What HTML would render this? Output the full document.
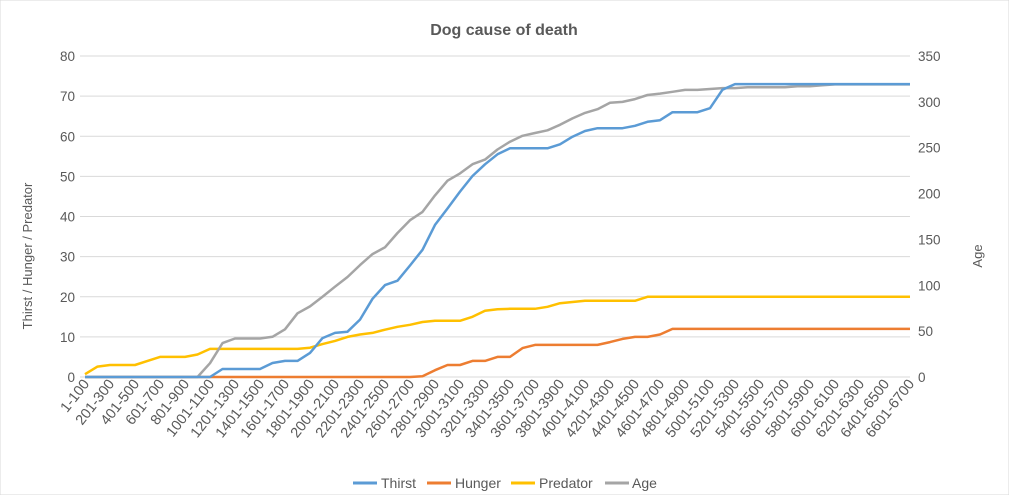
<!DOCTYPE html>
<html><head><meta charset="utf-8"><style>
body{margin:0;background:#fff;}
svg{display:block;font-family:"Liberation Sans",Calibri,sans-serif;}
</style></head><body>
<svg id="chart" width="1009" height="495" viewBox="0 0 1009 495">
<rect x="0" y="0" width="1009" height="495" fill="#fff" stroke="#d9d9d9"/>
<text x="504" y="35" text-anchor="middle" font-size="16" font-weight="bold" fill="#595959">Dog cause of death</text>
<g id="grid"></g><g id="ticks"></g><g id="xlabels"></g><g id="series"></g>
<text transform="translate(32,256) rotate(-90)" text-anchor="middle" font-size="13" fill="#595959">Thirst / Hunger / Predator</text>
<text transform="translate(982,256) rotate(-90)" text-anchor="middle" font-size="13" fill="#595959">Age</text>
<g font-size="14" fill="#595959">
<g><line x1="353" y1="483" x2="377" y2="483" stroke="#5b9bd5" stroke-width="3"/><text x="381" y="488">Thirst</text></g>
<g><line x1="427" y1="483" x2="451" y2="483" stroke="#ed7d31" stroke-width="3"/><text x="455" y="488">Hunger</text></g>
<g><line x1="511" y1="483" x2="535" y2="483" stroke="#ffc000" stroke-width="3"/><text x="539" y="488">Predator</text></g>
<g><line x1="605" y1="483" x2="629" y2="483" stroke="#a5a5a5" stroke-width="3"/><text x="632" y="488">Age</text></g>
</g>
</svg>
<script>
const categories = [];
for (let k = 0; k < 67; k++) categories.push((k*100+1) + '-' + (k*100+100));
const thirst = [0,0,0,0,0,0,0,0,0,0,0,2,2,2,2,3.5,4,4,6,9.7,11,11.3,14.3,19.5,22.9,24,27.8,31.7,37.9,42,46.2,50.1,53,55.5,57,57,57,57,58,59.9,61.3,62,62,62,62.6,63.6,64,66,66,66,67,71.6,73,73,73,73,73,73,73,73,73,73,73,73,73,73,73];
const hunger = [0,0,0,0,0,0,0,0,0,0,0,0,0,0,0,0,0,0,0,0,0,0,0,0,0,0,0,0.2,1.7,3,3,4,4,5,5,7.2,8,8,8,8,8,8,8.7,9.5,10,10,10.6,12,12,12,12,12,12,12,12,12,12,12,12,12,12,12,12,12,12,12,12];
const predator = [0.7,2.6,3,3,3,4,5,5,5,5.6,7,7,7,7,7,7,7,7,7.3,8.2,9,10,10.6,11,11.8,12.5,13,13.7,14,14,14,15,16.5,16.9,17,17,17,17.5,18.4,18.7,19,19,19,19,19,20,20,20,20,20,20,20,20,20,20,20,20,20,20,20,20,20,20,20,20,20,20];
const age = [0,0,0,0,0,0,0,0,0,0,15,37,42,42,42,43.8,52,69.5,77,87.6,98.5,109,122,134,141.4,157,171,180,198,214,222,232,237,248,256.6,263,266,269,275,282,288,292,299,300,303,307.5,309,311,313,313,314,315,315,316,316,316,316,317,317,318,319,319,319,319,319,319,319];
const leftTicks = [0,10,20,30,40,50,60,70,80];
const rightTicks = [0,50,100,150,200,250,300,350];

const NS='http://www.w3.org/2000/svg';
const X0=85, X1=910, Y0=377, Y1=56;
const xs = i => X0 + (X1-X0)*i/(categories.length-1);
const yl = v => Y0 - (Y0-Y1)*v/80;
const yr = v => Y0 - (Y0-Y1)*v/350;
function mk(tag, attrs, parent){const e=document.createElementNS(NS,tag);for(const k in attrs)e.setAttribute(k,attrs[k]);parent.appendChild(e);return e;}
const grid=document.getElementById('grid'), ticks=document.getElementById('ticks'), xl=document.getElementById('xlabels'), ser=document.getElementById('series');
leftTicks.forEach(v=>{
  const g=mk('line',{x1:X0-5,x2:X1,y1:yl(v),y2:yl(v),stroke:'#d9d9d9','stroke-width':1},grid);
  
  
  const t=mk('text',{x:75,y:yl(v)+5,'text-anchor':'end','font-size':13.5,fill:'#595959'},ticks);
  t.textContent=v;
  
  
});
rightTicks.forEach(v=>{
  const t=mk('text',{x:918,y:yr(v)+5,'text-anchor':'start','font-size':13.5,fill:'#595959'},ticks);
  t.textContent=v;
  
  
});
categories.forEach((c,i)=>{
  if(i%2) return;
  const x=xs(i)+5, y=384;
  const t=mk('text',{x:x,y:y,'text-anchor':'end','font-size':14.5,fill:'#595959',transform:`rotate(-52 ${x} ${y})`},xl);
  t.textContent=c;
  
  
});
function line(data, scale, color, name){
  const pts=data.map((v,i)=>xs(i).toFixed(1)+','+scale(v).toFixed(1)).join(' ');
  const p=mk('polyline',{points:pts,fill:'none',stroke:color,'stroke-width':2.5,'stroke-linejoin':'round'},ser);
  
  
}
line(hunger,yl,'#ed7d31','hunger-line');
line(predator,yl,'#ffc000','predator-line');
line(age,yr,'#a5a5a5','age-line');
line(thirst,yl,'#5b9bd5','thirst-line');
</script>
</body></html>
